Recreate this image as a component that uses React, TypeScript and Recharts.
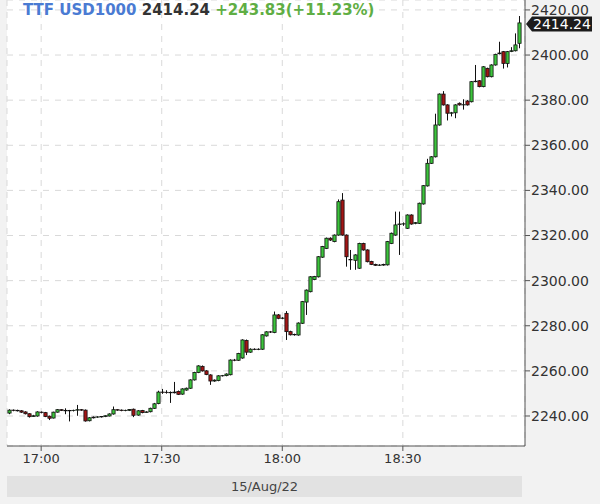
import React from "react";
import {
  ComposedChart,
  Bar,
  XAxis,
  YAxis,
  CartesianGrid,
  ReferenceLine,
} from "recharts";

// 1-minute candles, first one at 16:52
const START_MINUTE = 16 * 60 + 52;
const TIME_TICKS = ["17:00", "17:30", "18:00", "18:30"];
const PRICE_TICKS = [2240, 2260, 2280, 2300, 2320, 2340, 2360, 2380, 2400, 2420];
const LAST_PRICE = 2414.24;

const opens = [
  2241.3, 2242.6, 2242.5, 2242.3, 2241.8, 2241.0, 2239.8, 2240.0, 2241.7, 2241.5,
  2239.9, 2239.1, 2241.7, 2242.8, 2242.5, 2242.3, 2242.4, 2242.6, 2242.8, 2242.6,
  2237.9, 2239.2, 2239.5, 2239.6, 2239.8, 2240.0, 2240.9, 2242.8, 2242.6, 2242.4,
  2242.5, 2243.0, 2240.4, 2242.4, 2241.6, 2241.9, 2243.4, 2245.5, 2250.6, 2250.5,
  2250.4, 2250.3, 2250.9, 2249.7, 2251.5, 2252.3, 2256.0, 2259.3, 2262.0, 2260.0,
  2258.2, 2255.5, 2255.7, 2257.8, 2257.9, 2258.3, 2264.8, 2264.7, 2265.7, 2273.5,
  2268.3, 2269.6, 2269.5, 2269.6, 2275.5, 2277.3, 2277.0, 2284.8, 2283.3, 2285.5,
  2277.4, 2276.0, 2275.9, 2281.1, 2290.5, 2295.1, 2300.5, 2301.7, 2310.4, 2314.3,
  2318.8, 2317.3, 2320.2, 2335.7, 2320.2, 2309.4, 2309.0, 2305.5, 2316.5, 2313.6,
  2308.5, 2307.2, 2306.8, 2306.9, 2307.0, 2316.5, 2320.2, 2324.9, 2325.1, 2323.2,
  2329.1, 2325.4, 2325.4, 2334.0, 2342.0, 2352.0, 2354.9, 2369.0, 2382.7, 2377.9,
  2374.2, 2374.4, 2378.6, 2377.9, 2379.6, 2379.3, 2388.2, 2388.6, 2386.0, 2394.1,
  2390.4, 2395.6, 2400.6, 2401.5, 2396.3, 2401.6, 2401.9, 2405.2,
];

const highs = [
  2243.0, 2242.9, 2242.8, 2242.6, 2242.1, 2241.2, 2240.5, 2242.1, 2242.0, 2241.8,
  2240.2, 2241.9, 2243.1, 2243.0, 2243.4, 2242.7, 2242.8, 2244.9, 2243.1, 2242.9,
  2239.5, 2239.8, 2239.9, 2240.0, 2240.3, 2241.2, 2244.2, 2243.0, 2242.9, 2242.8,
  2243.1, 2243.3, 2242.6, 2242.7, 2242.1, 2243.7, 2245.8, 2251.2, 2252.0, 2251.4,
  2250.9, 2255.1, 2251.3, 2252.3, 2252.6, 2256.3, 2259.6, 2262.5, 2262.4, 2260.3,
  2258.5, 2256.2, 2258.1, 2258.2, 2258.9, 2265.1, 2265.3, 2268.0, 2274.0, 2273.9,
  2270.0, 2270.0, 2270.0, 2276.3, 2277.6, 2277.7, 2286.3, 2285.2, 2283.8, 2286.5,
  2277.8, 2276.5, 2281.5, 2291.0, 2296.1, 2302.0, 2302.1, 2310.9, 2315.4, 2319.1,
  2319.2, 2320.5, 2336.0, 2338.8, 2320.5, 2313.6, 2311.7, 2316.8, 2316.8, 2313.9,
  2308.8, 2307.5, 2307.3, 2307.5, 2317.6, 2321.3, 2330.6, 2330.6, 2325.8, 2329.4,
  2329.4, 2326.0, 2334.6, 2342.4, 2354.0, 2355.2, 2374.0, 2383.0, 2384.0, 2378.2,
  2374.8, 2378.2, 2379.0, 2380.4, 2380.0, 2388.5, 2395.6, 2388.9, 2395.1, 2394.4,
  2395.9, 2400.6, 2405.9, 2401.8, 2401.8, 2403.5, 2409.6, 2417.3,
];

const lows = [
  2240.8, 2242.1, 2242.0, 2241.4, 2240.7, 2239.3, 2239.6, 2239.7, 2241.2, 2239.5,
  2238.2, 2238.9, 2241.5, 2242.2, 2240.8, 2237.6, 2242.0, 2240.1, 2242.3, 2237.5,
  2237.6, 2238.9, 2239.2, 2239.3, 2239.5, 2239.8, 2240.6, 2242.3, 2242.1, 2242.1,
  2242.2, 2239.5, 2240.1, 2241.2, 2241.4, 2241.6, 2243.1, 2245.2, 2249.8, 2249.9,
  2245.8, 2250.0, 2249.3, 2249.4, 2251.2, 2252.0, 2255.7, 2259.0, 2259.7, 2258.1,
  2253.8, 2255.2, 2255.4, 2257.5, 2257.6, 2258.0, 2264.3, 2264.4, 2265.4, 2267.0,
  2268.0, 2269.2, 2269.2, 2269.3, 2275.2, 2276.8, 2276.7, 2282.9, 2282.9, 2273.7,
  2275.7, 2275.6, 2275.6, 2280.8, 2284.8, 2294.8, 2300.2, 2301.4, 2310.1, 2314.0,
  2317.6, 2317.0, 2319.9, 2319.9, 2306.2, 2304.8, 2304.8, 2305.2, 2313.3, 2308.1,
  2306.9, 2306.5, 2306.5, 2306.6, 2306.7, 2316.2, 2319.9, 2311.4, 2324.3, 2322.9,
  2324.8, 2325.0, 2325.1, 2333.7, 2341.7, 2351.7, 2354.6, 2368.7, 2377.6, 2371.0,
  2372.8, 2372.0, 2377.6, 2375.8, 2377.6, 2379.0, 2387.9, 2385.7, 2385.7, 2390.1,
  2390.1, 2395.3, 2400.3, 2394.0, 2394.5, 2401.3, 2401.6, 2403.0,
];

const closes = [
  2242.6, 2242.5, 2242.3, 2241.7, 2241.0, 2239.7, 2240.1, 2241.8, 2241.6, 2239.8,
  2239.0, 2241.7, 2242.8, 2242.5, 2242.3, 2242.4, 2242.5, 2242.8, 2242.6, 2237.8,
  2239.2, 2239.5, 2239.6, 2239.8, 2240.1, 2240.9, 2242.8, 2242.6, 2242.4, 2242.5,
  2242.9, 2240.3, 2242.3, 2241.5, 2241.8, 2243.4, 2245.4, 2250.6, 2250.5, 2250.4,
  2250.3, 2250.6, 2249.6, 2252.0, 2252.3, 2256.0, 2259.3, 2262.2, 2260.0, 2258.4,
  2255.5, 2255.9, 2257.8, 2257.9, 2258.6, 2264.8, 2264.7, 2267.7, 2273.7, 2268.3,
  2269.6, 2269.5, 2269.6, 2276.0, 2277.3, 2277.2, 2284.8, 2283.3, 2283.4, 2277.4,
  2276.0, 2276.1, 2281.2, 2290.7, 2295.8, 2301.7, 2301.8, 2310.6, 2315.1, 2318.8,
  2318.0, 2320.2, 2335.0, 2320.2, 2310.6, 2309.2, 2311.4, 2316.5, 2313.6, 2308.4,
  2307.2, 2306.8, 2306.9, 2307.2, 2317.3, 2321.0, 2324.7, 2325.1, 2325.2, 2329.1,
  2325.1, 2325.7, 2334.3, 2342.1, 2352.0, 2354.9, 2369.0, 2382.7, 2377.9, 2374.2,
  2374.4, 2377.9, 2377.9, 2378.0, 2377.9, 2388.2, 2388.4, 2386.0, 2394.8, 2390.4,
  2395.6, 2400.3, 2400.9, 2396.3, 2401.5, 2401.9, 2404.5, 2414.24,
];

const clock = (m: number) =>
  `${Math.floor(m / 60)}:${String(m % 60).padStart(2, "0")}`;

const data = opens.map((open, i) => ({
  t: clock(START_MINUTE + i),
  open,
  high: highs[i],
  low: lows[i],
  close: closes[i],
  range: [lows[i], highs[i]],
}));

const FONT = "DejaVu Sans, Verdana, sans-serif";

function Candle(props: any) {
  const { x, y, width, height, payload } = props;
  if (!payload || height == null) return null;
  const { open, close, high, low } = payload;
  const top = Math.min(y, y + height);
  const h = Math.abs(height);
  const py = (v: number) => top + ((high - v) / (high - low)) * h;
  const cx = Math.round(x + width / 2) + 0.5;
  const yo = py(open);
  const yc = py(close);
  const up = close >= open;
  return (
    <g>
      <line x1={cx} x2={cx} y1={top} y2={top + h} stroke="#111" strokeWidth={1} />
      <rect
        x={cx - 1.6}
        y={Math.min(yo, yc)}
        width={3.2}
        height={Math.max(Math.abs(yc - yo), 0.1)}
        fill={up ? "#3cc43c" : "#a31515"}
        stroke="#111"
        strokeWidth={0.8}
      />
    </g>
  );
}

function PriceTag(props: any) {
  const { viewBox } = props;
  if (!viewBox) return null;
  const x = viewBox.x + viewBox.width;
  const y = viewBox.y + 1;
  return (
    <g>
      <polygon
        points={`${x + 1},${y} ${x + 7},${y - 7.5} ${x + 67},${y - 7.5} ${x + 67},${y + 7.5} ${x + 7},${y + 7.5}`}
        fill="#1c1c1c"
      />
      <text x={x + 8} y={y} dy="0.36em" fill="#fff" fontSize={14} fontFamily={FONT}>
        {LAST_PRICE.toFixed(2)}
      </text>
    </g>
  );
}

export default function App() {
  return (
    <div
      style={{
        position: "relative",
        width: 600,
        height: 504,
        background: "#f2f2f2",
        fontFamily: FONT,
      }}
    >
      <style>{"body{margin:0}"}</style>
      <ComposedChart
        width={600}
        height={504}
        data={data}
        margin={{ top: 0, right: 0, left: 7, bottom: 0 }}
      >
        <CartesianGrid stroke="#d9d9d9" strokeDasharray="6 6" fill="#fff" />
        <XAxis
          dataKey="t"
          ticks={TIME_TICKS}
          interval={0}
          height={58}
          padding={{ left: 0, right: 3.6 }}
          axisLine={{ stroke: "#555" }}
          tickLine={{ stroke: "#555" }}
          tickSize={5}
          tickMargin={3}
          tick={{ fill: "#333", fontSize: 13, fontFamily: FONT }}
        />
        <YAxis
          yAxisId="frame"
          orientation="left"
          width={0}
          domain={[0, 1]}
          tick={false}
          tickLine={false}
          axisLine={{ stroke: "#555" }}
        />
        <YAxis
          orientation="right"
          width={75}
          domain={[2226.7, 2424.4]}
          allowDataOverflow
          ticks={PRICE_TICKS}
          interval={0}
          tickFormatter={(v: number) => v.toFixed(2)}
          axisLine={{ stroke: "#555" }}
          tickLine={{ stroke: "#555" }}
          tickSize={5}
          tickMargin={1}
          tick={{ fill: "#333", fontSize: 14, fontFamily: FONT }}
        />
        <Bar dataKey="range" shape={<Candle />} isAnimationActive={false} />
        <ReferenceLine
          y={LAST_PRICE}
          stroke="none"
          ifOverflow="visible"
          label={<PriceTag />}
        />
      </ComposedChart>

      <div
        style={{
          position: "absolute",
          left: 23,
          top: 1,
          fontSize: 15,
          lineHeight: "18px",
          fontWeight: "bold",
          whiteSpace: "nowrap",
        }}
      >
        <span style={{ color: "#4a7bd3" }}>TTF USD1000</span>{" "}
        <span style={{ color: "#333" }}>2414.24</span>{" "}
        <span style={{ color: "#5fae44" }}>+243.83(+11.23%)</span>
      </div>

      <div
        style={{
          position: "absolute",
          left: 7,
          top: 476,
          width: 515,
          height: 21,
          background: "#e2e2e2",
          color: "#444",
          fontSize: 13,
          lineHeight: "21px",
          textAlign: "center",
        }}
      >
        15/Aug/22
      </div>
    </div>
  );
}
